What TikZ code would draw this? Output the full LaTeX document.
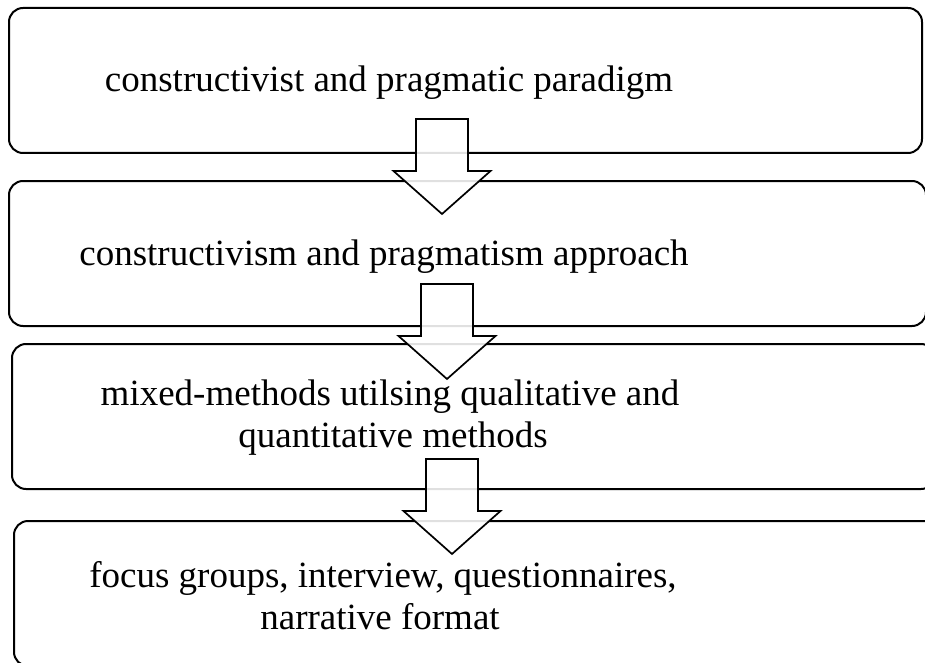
\documentclass[tikz,border=0pt]{standalone}
\usepackage{fontspec}
\setmainfont{Liberation Serif}
\usetikzlibrary{calc}

\tikzset{
  stagebox/.style={draw=black, line width=2pt, rounded corners=14pt,
    inner sep=0pt, fill=none},
  stagetext/.style={anchor=base, inner sep=0pt,
    font=\fontsize{37}{42}\selectfont},
  blockarrow/.style={draw=black, line width=1.7pt, fill=white,
    fill opacity=0.88, line join=miter}
}

% hollow block arrow pointing down: #1 = middle of the shaft top, #2 = tip
\newcommand\downblock[2]{%
  \path[blockarrow]
    ($(#1)+(-26,0)$) -- ($(#1)+(26,0)$) -- ($(#2)+(26,-43)$)
    -- ($(#2)+(48.5,-43)$) -- (#2) -- ($(#2)+(-48.5,-43)$)
    -- ($(#2)+(-26,-43)$) -- cycle;
}

\begin{document}
\begin{tikzpicture}[x=1pt, y=-1pt]
  \useasboundingbox (0,0) rectangle (925,663);
  \clip (0,0) rectangle (925,663);
  \fill[white] (0,0) rectangle (925,663);

  % stages
  \node[stagebox, minimum width=913pt, minimum height=145pt] (b1) at (465.5,80.5) {};
  \node[stagebox, minimum width=917pt, minimum height=145pt] (b2) at (467.5,253.5) {};
  \node[stagebox, minimum width=923pt, minimum height=145pt] (b3) at (473.5,416.5) {};
  \node[stagebox, minimum width=926pt, minimum height=145pt] (b4) at (477,593.5) {};

  % stage labels
  \node[stagetext] (t1)  at (389,92)  {constructivist and pragmatic paradigm};
  \node[stagetext] (t2)  at (384,265) {constructivism and pragmatism approach};
  \node[stagetext] (t3a) at (390,405) {mixed-methods utilsing qualitative and};
  \node[stagetext] (t3b) at (393,447) {quantitative methods};
  \node[stagetext] (t4a) at (383,587) {focus groups, interview, questionnaires,};
  \node[stagetext] (t4b) at (380,629) {narrative format};

  % arrows between stages
  \coordinate (a1top) at (442,119); \coordinate (a1tip) at (442,214);
  \coordinate (a2top) at (447,284); \coordinate (a2tip) at (447,379);
  \coordinate (a3top) at (452,459); \coordinate (a3tip) at (452,554);
  \downblock{a1top}{a1tip}
  \downblock{a2top}{a2tip}
  \downblock{a3top}{a3tip}
\end{tikzpicture}
\end{document}
